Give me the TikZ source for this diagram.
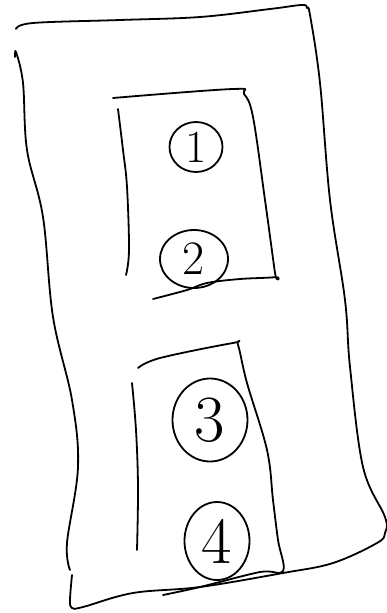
\documentclass[tikz,border=0pt]{standalone}
\usepackage{tikz}
\usetikzlibrary{shapes.geometric}

\begin{document}
\begin{tikzpicture}[
            x=1pt, y=-1pt,
            line width=1.8pt, line cap=round, line join=round,
            sketch/.style={smooth, tension=0.6},
            numblob/.style={ellipse, draw, inner sep=0pt, line width=1.8pt}
        ]

        % Canvas (pixel units of the sketch)
        \useasboundingbox (0,0) rectangle (387,613);

        % --- Outer frame ---
        \draw plot[sketch] coordinates {(16,29) (33,23) (120,20) (200,17) (270,9) (302,5) (307,8) (310,15) (320,83) (330,200) (345,300) (350,367) (363,467) (385,517) (385,533) (377,543) (333,563) (283,573) (200,587) (133,593) (83,607) (72,608) (70,600) (72,575)};
        \draw plot[sketch] coordinates {(15,57) (16,52) (23,83) (27,150) (43,217) (53,317) (72,400) (78,467) (67,543) (70,570)};

        % --- Inner box (top) ---
        \draw plot[sketch] coordinates {(113,98) (233,89) (244,94) (253,117) (265,200) (275,273) (276,277) (240,279) (207,283) (187,290) (153,299)};
        \draw plot[sketch] coordinates {(118,109) (123,150) (127,187) (129,250) (126,275)};

        % --- Inner box (bottom) ---
        \draw plot[sketch] coordinates {(138,368) (160,358) (233,343) (238,345) (247,383) (267,450) (273,500) (278,540) (283,571) (260,572) (200,587) (163,595)};
        \draw plot[sketch] coordinates {(132,383) (136,430) (138,487) (137,550)};

        % --- Numbered items ---
        \node[numblob, minimum width=53pt, minimum height=50pt, font=\fontsize{46}{46}\selectfont] (one) at (196,147) {1};
        \node[numblob, minimum width=68pt, minimum height=58pt, font=\fontsize{48}{48}\selectfont] (two) at (194,259) {2};
        \node[numblob, minimum width=75pt, minimum height=83pt, font=\fontsize{66}{66}\selectfont] (three) at (210,420) {3};
        \node[numblob, minimum width=65pt, minimum height=78pt, font=\fontsize{66}{66}\selectfont] (four) at (217,541) {4};

        \end{tikzpicture}
\end{document}
